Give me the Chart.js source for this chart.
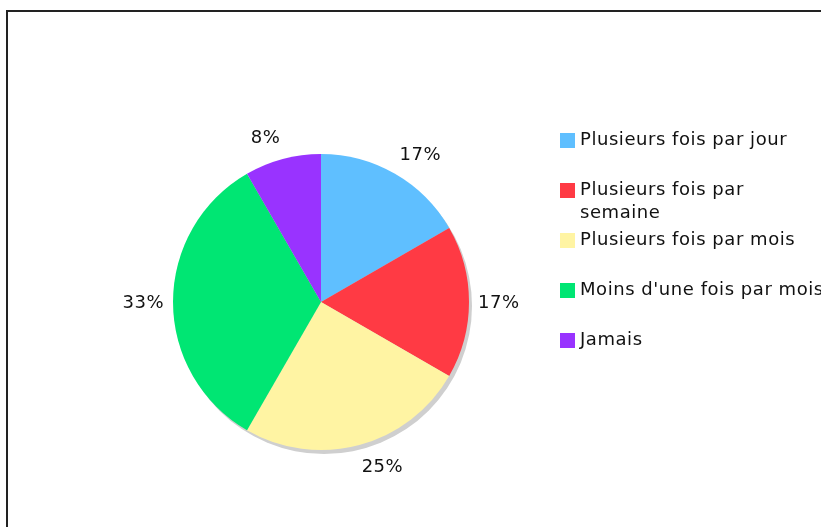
<!DOCTYPE html>
<html>
<head>
<meta charset="utf-8">
<script src="https://cdn.jsdelivr.net/npm/chart.js@4.4.0/dist/chart.umd.min.js"></script>
<style>
  body { margin: 0; background: #fff; font-family: "DejaVu Sans", Verdana, sans-serif; }
  #wrap { position: relative; width: 821px; height: 527px; overflow: hidden; }
  #frame { position: absolute; left: 6px; top: 10px; width: 1000px; height: 700px;
           border-top: 2px solid #222; border-left: 2px solid #222; }
  #pie { position: absolute; left: 0; top: 0; }
  #legend { position: absolute; left: 560px; top: 127px; font-size: 18px; letter-spacing: 0.55px; color: #111; }
  .item { position: relative; height: 50px; }
  .box { position: absolute; left: 0; top: 6px; width: 15px; height: 15px; }
  .txt { position: absolute; left: 20px; top: 0; width: 250px; line-height: 23px; }
</style>
</head>
<body>
<div id="wrap">
  <div id="frame"></div>
  <canvas id="pie" width="821" height="527"></canvas>
  <div id="legend"></div>
</div>
<script>
const labels = ["Plusieurs fois par jour", "Plusieurs fois par semaine", "Plusieurs fois par mois",
                "Moins d'une fois par mois", "Jamais"];
const counts = [2, 2, 3, 4, 1];
const percentLabels = ["17%", "17%", "25%", "33%", "8%"];
const colors = ["#5fbfff", "#ff3a44", "#fff4a3", "#00e673", "#9933ff"];

// gray drop shadow under the pie
const shadow = {
  id: "shadow",
  beforeDatasetsDraw(chart) {
    const arc = chart.getDatasetMeta(0).data[0];
    if (!arc) return;
    const ctx = chart.ctx;
    ctx.save();
    ctx.fillStyle = "#cfcfcf";
    ctx.beginPath();
    ctx.arc(arc.x + 3, arc.y + 4, arc.outerRadius, 0, Math.PI * 2);
    ctx.fill();
    ctx.restore();
  }
};

// percent labels outside the slices
const outLabels = {
  id: "outLabels",
  afterDatasetsDraw(chart) {
    const ctx = chart.ctx;
    ctx.save();
    ctx.font = "18px 'DejaVu Sans', Verdana, sans-serif";
    ctx.letterSpacing = "0.5px";
    ctx.fillStyle = "#111";
    ctx.textBaseline = "middle";
    chart.getDatasetMeta(0).data.forEach((arc, i) => {
      const mid = (arc.startAngle + arc.endAngle) / 2;
      const r = arc.outerRadius;
      const x = arc.x + Math.cos(mid) * (r + 9);
      const y = arc.y + Math.sin(mid) * (r + 22) + 1;
      ctx.textAlign = Math.cos(mid) >= -0.01 ? "left" : "right";
      ctx.fillText(percentLabels[i], x, y);
    });
    ctx.restore();
  }
};

new Chart(document.getElementById("pie"), {
  type: "pie",
  data: {
    labels: labels,
    datasets: [{ data: counts, backgroundColor: colors, borderWidth: 0 }]
  },
  options: {
    responsive: false,
    animation: false,
    layout: { padding: { left: 173, right: 352, top: 154, bottom: 77 } },
    plugins: { legend: { display: false }, tooltip: { enabled: false } }
  },
  plugins: [shadow, outLabels]
});

const legend = document.getElementById("legend");
labels.forEach((l, i) => {
  const item = document.createElement("div");
  item.className = "item";
  item.innerHTML = '<div class="box" style="background:' + colors[i] + '"></div><div class="txt">' + l + '</div>';
  legend.appendChild(item);
});
</script>
</body>
</html>
